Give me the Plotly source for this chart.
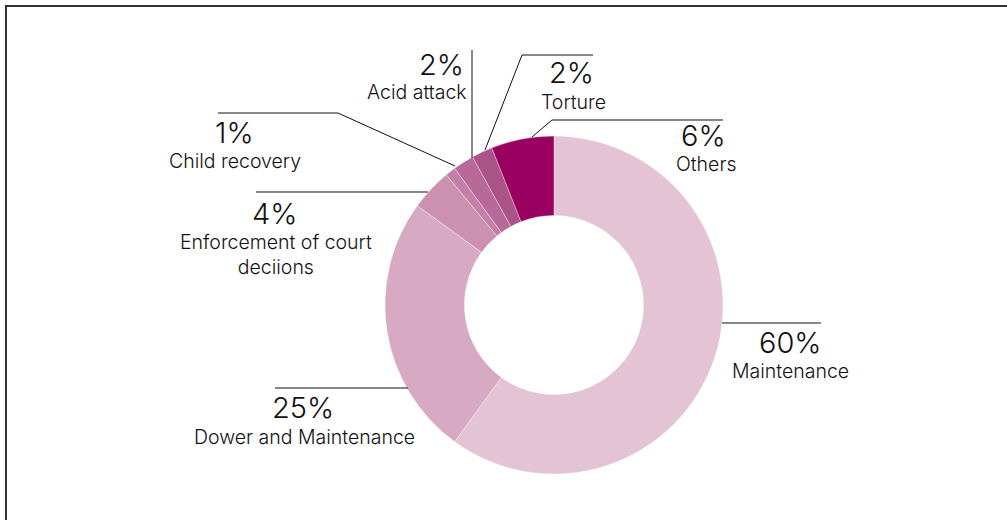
import plotly.graph_objects as go

# Case categories (clockwise from 12 o'clock) and their shares in percent
categories = [
    "Maintenance",
    "Dower and Maintenance",
    "Enforcement of court<br>deciions",
    "Child recovery",
    "Acid attack",
    "Torture",
    "Others",
]
shares = [60, 25, 4, 1, 2, 2, 6]
slice_colors = ["#e3c3d4", "#d8a9c3", "#cc91b1", "#c47fa6", "#b8699a", "#aa5388", "#990060"]

W, H = 1007, 520


def fx(x):
    return x / W


def fy(y):
    return 1 - y / H


# Ring placement in pixels: centre (554, 305), outer radius 169
CX, CY, R = 554, 305, 169

fig = go.Figure(
    go.Pie(
        labels=categories,
        values=shares,
        marker=dict(colors=slice_colors, line=dict(color="rgba(255,255,255,0.6)", width=0.6)),
        hole=0.53,
        sort=False,
        direction="clockwise",
        rotation=0,
        textinfo="none",
        showlegend=False,
        domain=dict(x=[fx(CX - R), fx(CX + R)], y=[fy(CY + R), fy(CY - R)]),
    )
)

# Label layout: (percent x, percent y, name x, name y, anchor)
label_layout = {
    "Maintenance": (790, 342, 790, 371, "center"),
    "Dower and Maintenance": (303, 407, 304, 437, "center"),
    "Enforcement of court<br>deciions": (274, 213, 276, 254, "center"),
    "Child recovery": (234, 132, 235, 161, "center"),
    "Acid attack": (466, 64, 469, 92, "right"),
    "Torture": (571, 73, 573, 102, "center"),
    "Others": (703, 136, 706, 164, "center"),
}

# Leader lines in pixels
leaders = [
    [(722, 323), (821, 323)],
    [(275, 388), (408, 388)],
    [(256, 192), (428, 192)],
    [(218, 113), (338, 113), (455, 166)],
    [(472, 50), (472, 158)],
    [(593, 55), (522, 55), (485, 150)],
    [(723, 120), (552, 120), (532, 137)],
]

FONT = "Inter, 'Liberation Sans', Arial, sans-serif"
annotations = []
for name, share in zip(categories, shares):
    px_, py_, nx, ny, anchor = label_layout[name]
    annotations.append(dict(
        x=fx(px_), y=fy(py_), xref="paper", yref="paper", text=f"{share}%",
        showarrow=False, xanchor=anchor, yanchor="middle",
        font=dict(family=FONT, size=29, color="#111111", weight=300),
    ))
    annotations.append(dict(
        x=fx(nx), y=fy(ny), xref="paper", yref="paper", text=name,
        showarrow=False, xanchor=anchor, yanchor="middle", align=anchor,
        font=dict(family=FONT, size=19.5, color="#111111", weight=300),
    ))

shapes = []
for pts in leaders:
    path = "M " + " L ".join(f"{fx(x):.5f},{fy(y):.5f}" for x, y in pts)
    shapes.append(dict(type="path", path=path, xref="paper", yref="paper",
                       line=dict(color="#111111", width=1)))

# Frame along the left and top edges
shapes.append(dict(type="path",
                   path=f"M {fx(6):.5f},{fy(H + 5):.5f} L {fx(6):.5f},{fy(6):.5f} L {fx(W + 5):.5f},{fy(6):.5f}",
                   xref="paper", yref="paper", line=dict(color="#333333", width=2)))

fig.update_layout(
    width=W, height=H,
    margin=dict(l=0, r=0, t=0, b=0),
    paper_bgcolor="white", plot_bgcolor="white",
    annotations=annotations,
    shapes=shapes,
)

fig.write_html("out.html")
